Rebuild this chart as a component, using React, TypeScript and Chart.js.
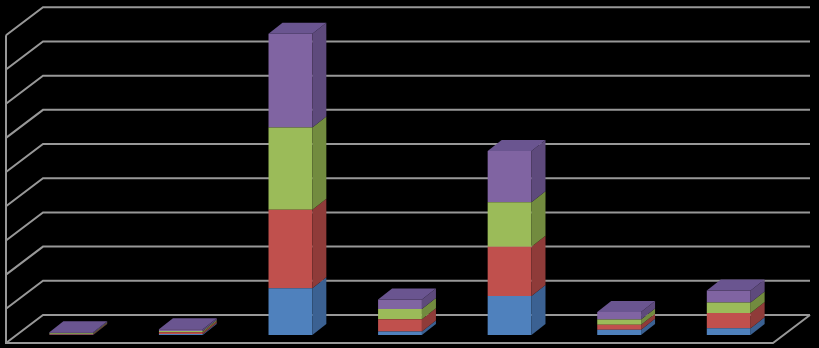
import { useEffect, useRef } from "react";
import { Chart, registerables } from "chart.js";

Chart.register(...registerables);

// Category and series data
const categories = ["A", "B", "C", "D", "E", "F", "G"];
const seriesNames = ["Series 1", "Series 2", "Series 3", "Series 4"];
const series1 = [1, 3, 137, 10, 114, 15, 20];
const series2 = [2, 5, 229, 36, 144, 15, 44];
const series3 = [2, 4, 241, 30, 130, 15, 31];
const series4 = [3, 5, 274, 28, 150, 22, 35];
const axisMax = 900;
const axisStep = 100;

// Palette: front faces, darker side faces, and the lid colour
const frontColors = ["#4F81BD", "#C0504D", "#9BBB59", "#8064A2"];
const sideColors = ["#3B6192", "#8F3B39", "#728B3F", "#5E4A7C"];
const lidColor = "#6A5590";
const wallColor = "#989898";

// Oblique projection offsets relative to the plane of the bar fronts
const BACK_DX = 26.5;
const BACK_DY = -20;
const FRONT_DX = -10.5;
const FRONT_DY = 8;
const BAR_DX = 14;
const BAR_DY = 11;

const walls3d = {
  id: "walls3d",
  beforeDraw(chart: any) {
    const { ctx, width, height } = chart;
    ctx.save();
    ctx.fillStyle = "#000000";
    ctx.fillRect(0, 0, width, height);
    ctx.restore();
  },
  beforeDatasetsDraw(chart: any) {
    const { ctx, chartArea } = chart;
    const yScale = chart.scales.y;
    const { left, right, top, bottom } = chartArea;
    ctx.save();
    ctx.strokeStyle = wallColor;
    ctx.lineWidth = 2;
    ctx.lineCap = "butt";
    ctx.lineJoin = "miter";
    ctx.beginPath();
    for (let v = 0; v <= axisMax; v += axisStep) {
      const y = yScale.getPixelForValue(v);
      // left wall diagonal and back wall line
      ctx.moveTo(left + FRONT_DX, y + FRONT_DY);
      ctx.lineTo(left + BACK_DX, y + BACK_DY);
      ctx.lineTo(right + BACK_DX, y + BACK_DY);
    }
    // left wall front edge
    ctx.moveTo(left + FRONT_DX, top + FRONT_DY);
    ctx.lineTo(left + FRONT_DX, bottom + FRONT_DY);
    // floor front edge and right edge
    ctx.lineTo(right + FRONT_DX, bottom + FRONT_DY);
    ctx.lineTo(right + BACK_DX, bottom + BACK_DY);
    ctx.stroke();
    ctx.restore();
  },
  afterDatasetsDraw(chart: any) {
    const { ctx } = chart;
    const count = chart.data.labels.length;
    ctx.save();
    for (let i = 0; i < count; i++) {
      let topRect: any = null;
      chart.data.datasets.forEach((_ds: any, di: number) => {
        const meta = chart.getDatasetMeta(di);
        const bar: any = meta.data[i];
        if (!bar) return;
        const half = bar.width / 2;
        const l = bar.x - half;
        const r = bar.x + half;
        const t = Math.min(bar.y, bar.base);
        const b = Math.max(bar.y, bar.base);
        ctx.fillStyle = sideColors[di];
        ctx.beginPath();
        ctx.moveTo(r, b);
        ctx.lineTo(r, t);
        ctx.lineTo(r + BAR_DX, t - BAR_DY);
        ctx.lineTo(r + BAR_DX, b - BAR_DY);
        ctx.closePath();
        ctx.fill();
        topRect = { l, r, t };
      });
      if (topRect) {
        ctx.fillStyle = lidColor;
        ctx.beginPath();
        ctx.moveTo(topRect.l, topRect.t);
        ctx.lineTo(topRect.r, topRect.t);
        ctx.lineTo(topRect.r + BAR_DX, topRect.t - BAR_DY);
        ctx.lineTo(topRect.l + BAR_DX, topRect.t - BAR_DY);
        ctx.closePath();
        ctx.fill();
      }
    }
    ctx.restore();
  },
};

export default function App() {
  const canvasRef = useRef<HTMLCanvasElement | null>(null);

  useEffect(() => {
    document.body.style.margin = "0";
    document.body.style.background = "#000";
    const canvas = canvasRef.current;
    if (!canvas) return;
    const values = [series1, series2, series3, series4];
    const chart = new Chart(canvas, {
      type: "bar",
      data: {
        labels: categories,
        datasets: values.map((data, i) => ({
          label: seriesNames[i],
          data,
          backgroundColor: frontColors[i],
          borderWidth: 0,
          categoryPercentage: 0.4,
          barPercentage: 1,
        })),
      },
      options: {
        responsive: false,
        animation: false,
        devicePixelRatio: 1,
        layout: { padding: { left: 16.5, right: 35.5, top: 27.3, bottom: 13 } },
        plugins: {
          legend: { display: false },
          tooltip: { enabled: false },
        },
        scales: {
          x: { stacked: true, display: false },
          y: {
            stacked: true,
            display: false,
            min: 0,
            max: axisMax,
            ticks: { stepSize: axisStep },
          },
        },
      },
      plugins: [walls3d],
    });
    return () => chart.destroy();
  }, []);

  return (
    <div style={{ position: "fixed", left: 0, top: 0, width: 819, height: 348, background: "#000" }}>
      <canvas ref={canvasRef} width={819} height={348} style={{ display: "block" }} />
    </div>
  );
}
